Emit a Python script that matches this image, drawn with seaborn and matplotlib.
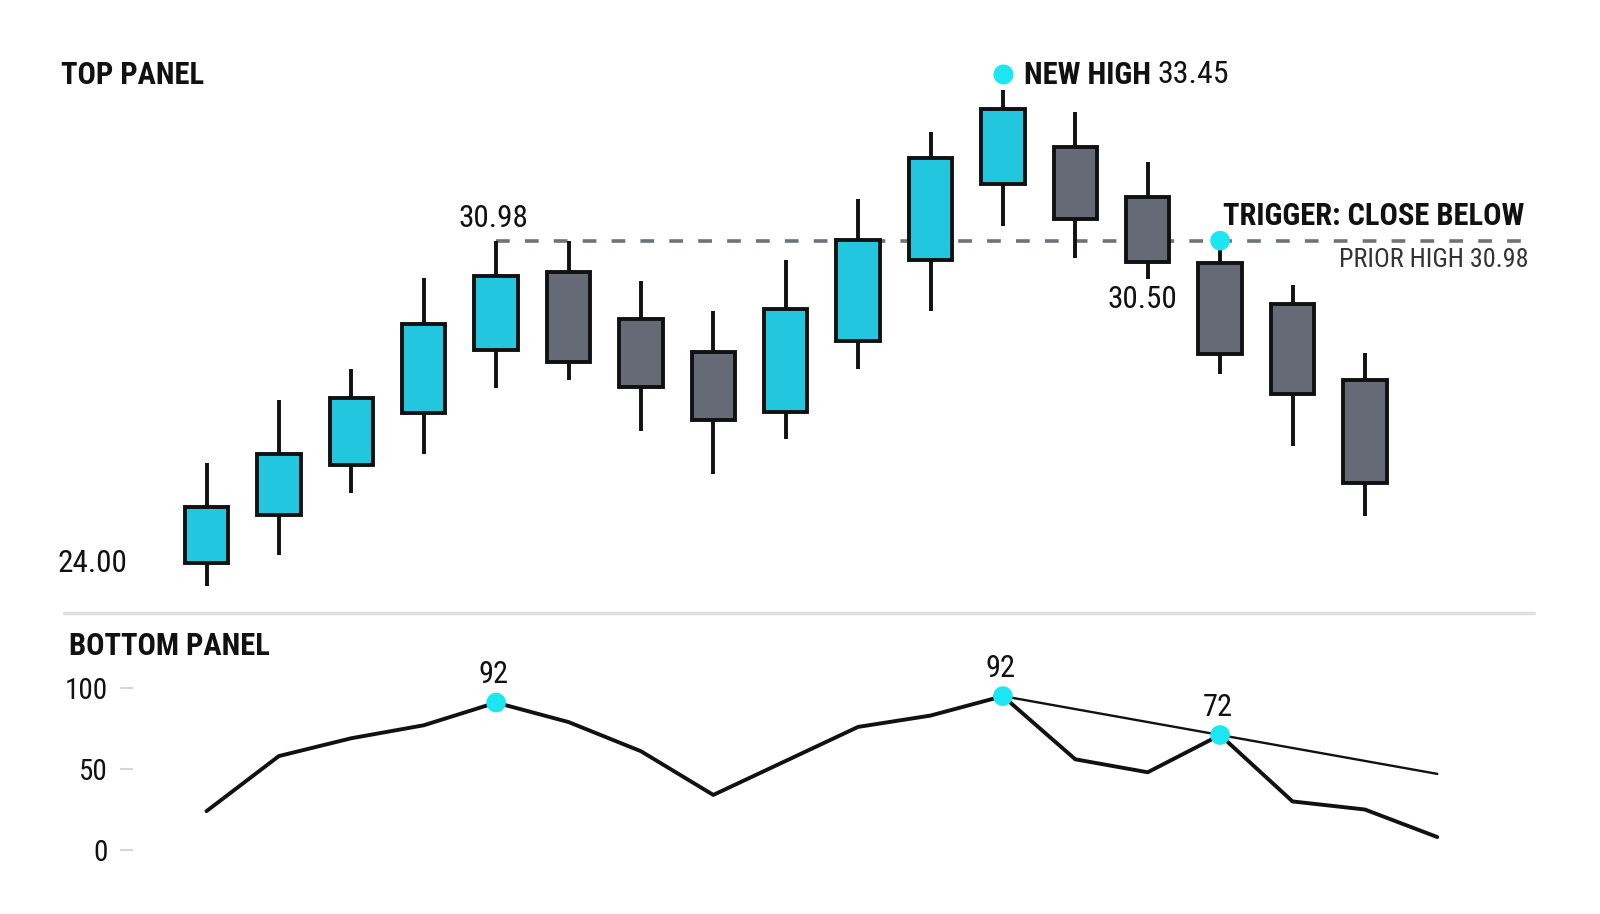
import numpy as np
import pandas as pd
import matplotlib
matplotlib.use("Agg")
import matplotlib.pyplot as plt
import matplotlib.transforms as mtrans
import seaborn as sns
from matplotlib.lines import Line2D

# --- data ---
opens  = [24.00, 25.04, 26.12, 27.24, 28.62, 30.30, 29.28, 28.56, 27.28, 28.81, 30.57, 32.21, 33.01, 31.93, 30.49, 29.60, 27.96]
highs  = [26.16, 27.53, 28.20, 30.18, 30.98, 30.98, 30.11, 29.46, 30.57, 31.89, 33.34, 34.24, 33.76, 32.69, 30.98, 30.03, 28.54]
lows   = [23.51, 24.17, 25.52, 26.37, 27.79, 27.96, 26.85, 25.93, 26.68, 28.21, 29.46, 31.29, 30.61, 30.16, 28.09, 26.53, 25.01]
closes = [25.21, 26.37, 27.57, 29.18, 30.22, 28.35, 27.82, 27.09, 29.51, 31.00, 32.76, 33.82, 31.44, 30.51, 28.52, 27.65, 25.73]

osc = [24, 58, 69, 77, 91, 79, 61, 34, 55, 76, 83, 95, 56, 48, 71, 30, 25, 8]
osc_peaks = [4, 11, 14]
osc_peak_labels = ["92", "92", "72"]
trend_x = [11, 17]
trend_y = [95, 47]

prior_high = 30.98
new_high_idx = 11
trigger_idx = 14
low30_idx = 13

CYAN = "#22c6df"
GRAY = "#646b76"
DOT = "#1de6f3"
INK = "#111111"

sns.set_theme(style="white")
plt.rcParams['font.family'] = ['Roboto Condensed', 'Liberation Sans Narrow',
                               'DejaVu Sans Condensed', 'Roboto', 'DejaVu Sans']

df = pd.DataFrame({"i": np.arange(len(opens)), "open": opens, "high": highs,
                   "low": lows, "close": closes})
df["up"] = df["close"] > df["open"]
osc_df = pd.DataFrame({"i": np.arange(len(osc)), "v": osc})

fig = plt.figure(figsize=(16, 9.14), dpi=100)
left = 133 / 1600
xlim = ((133 - 206.5) / 72.4, (1600 - 206.5) / 72.4)

ax = fig.add_axes([left, 1 - 600 / 914, 1 - left, 600 / 914])
ax2 = fig.add_axes([left, 0, 1 - left, 294 / 914])

# --- TOP PANEL: candles ---
ax.vlines(df["i"], df["low"], df["high"], color=INK, lw=2.8, zorder=2)
body_col = np.where(df["up"], CYAN, GRAY)
ax.bar(df["i"], df["close"] - df["open"], bottom=df["open"], width=0.6,
       color=body_col, edgecolor=INK, linewidth=2.8, zorder=3)

ax.hlines(prior_high, 4, 18.34, colors="#6d737b", lw=2.6,
          linestyles=(0, (3.8, 4.2)), zorder=1)

sns.scatterplot(x=[trigger_idx], y=[prior_high], ax=ax, s=200, color=DOT,
                edgecolor="none", zorder=5)
# dot sits a little above the new-high wick
lift = mtrans.offset_copy(ax.transData, fig=fig, x=0, y=11.5, units='points')
ax.plot([new_high_idx], [highs[new_high_idx]], "o", ms=14.4, color=DOT,
        mec="none", transform=lift, zorder=5)

t1 = ax.annotate("NEW HIGH", xy=(new_high_idx, highs[new_high_idx]), xytext=(15, 11),
                 textcoords="offset points", ha="left", va="center",
                 fontsize=22, fontweight="bold", color=INK)
ax.annotate("33.45", xy=(1, 0.5), xycoords=t1, xytext=(5, 0),
            textcoords="offset points", ha="left", va="center",
            fontsize=23, color=INK)

ax.annotate("30.98", xy=(4, prior_high), xytext=(-2, 16), textcoords="offset points",
            ha="center", va="center", fontsize=22.5, color=INK)
ax.annotate("30.50", xy=(low30_idx, lows[low30_idx]), xytext=(-4, -15),
            textcoords="offset points", ha="center", va="center", fontsize=22.5, color=INK)
ax.annotate("24.00", xy=(0, opens[0]), xytext=(-107, 0), textcoords="offset points",
            ha="left", va="center", fontsize=22.5, color=INK)
ax.annotate("TRIGGER: CLOSE BELOW", xy=(18.34, prior_high), xytext=(-7, 18),
            textcoords="offset points", ha="right", va="center",
            fontsize=22, fontweight="bold", color=INK)
ax.annotate("PRIOR HIGH 30.98", xy=(18.34, prior_high), xytext=(-4, -14),
            textcoords="offset points", ha="right", va="center",
            fontsize=18.8, color="#333333")

ax.set_xlim(*xlim)
ax.set_ylim(23.20, 36.19)
ax.axis("off")

# --- BOTTOM PANEL: oscillator ---
sns.lineplot(data=osc_df, x="i", y="v", ax=ax2, color=INK, lw=2.8, zorder=2)
sns.lineplot(x=trend_x, y=trend_y, ax=ax2, color=INK, lw=1.7, zorder=2)
sns.scatterplot(x=osc_df["i"].iloc[osc_peaks], y=osc_df["v"].iloc[osc_peaks], ax=ax2,
                s=200, color=DOT, edgecolor="none", zorder=5)
for k, lab in zip(osc_peaks, osc_peak_labels):
    ax2.annotate(lab, xy=(k, osc[k]), xytext=(-2, 20), textcoords="offset points",
                 ha="center", va="center", fontsize=22, color=INK)

ax2.set_xlim(*xlim)
ax2.set_ylim(-39.5, 142)
ax2.set_yticks([0, 50, 100])
ax2.set_xticks([])
ax2.set_xlabel("")
ax2.set_ylabel("")
for s in ax2.spines.values():
    s.set_visible(False)
ax2.tick_params(axis="y", left=True, length=9.4, width=1.5, color="#d6d6d6",
                pad=9, labelsize=21, labelcolor=INK)

# --- panel titles and separator ---
fig.text(61 / 1600, 1 - 74.6 / 914, "TOP PANEL", ha="left", va="center",
         fontsize=22, fontweight="bold", color=INK)
fig.text(69 / 1600, 1 - 645.7 / 914, "BOTTOM PANEL", ha="left", va="center",
         fontsize=22, fontweight="bold", color=INK)
fig.add_artist(Line2D([64 / 1600, 1534 / 1600], [1 - 613 / 914, 1 - 613 / 914],
                      transform=fig.transFigure, color="#e0e0e0", lw=2.5))

fig.savefig("out.png", dpi=100, facecolor="white")
